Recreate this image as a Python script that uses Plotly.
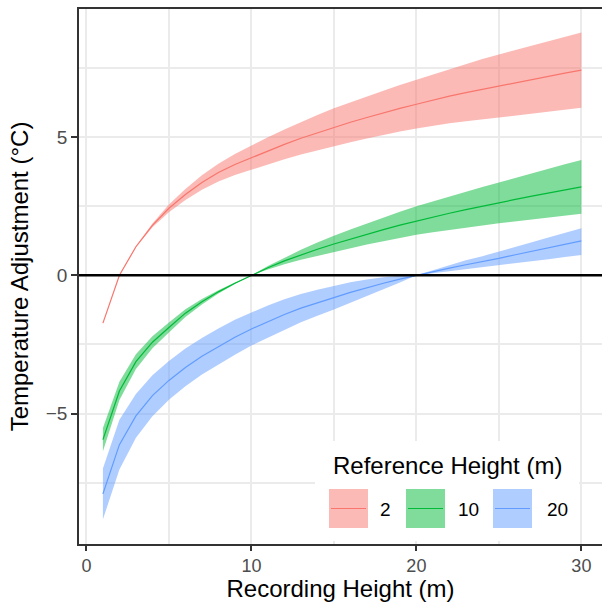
import plotly.graph_objects as go

# Recording heights (m)
heights = list(range(1, 31))

# Reference height 2 m
ref2_mid = [-1.73, 0.00, 1.03, 1.80, 2.42, 2.92, 3.35, 3.71, 4.00, 4.25,
            4.50, 4.73, 4.95, 5.15, 5.35, 5.53, 5.70, 5.87, 6.03, 6.18,
            6.33, 6.47, 6.60, 6.72, 6.84, 6.96, 7.08, 7.19, 7.30, 7.41]
ref2_lo = [-1.73, 0.00, 1.01, 1.73, 2.28, 2.72, 3.09, 3.39, 3.62, 3.81,
           4.01, 4.19, 4.36, 4.51, 4.67, 4.81, 4.94, 5.07, 5.19, 5.30,
           5.40, 5.49, 5.56, 5.63, 5.70, 5.78, 5.85, 5.92, 5.98, 6.05]
ref2_hi = [-1.73, 0.00, 1.05, 1.87, 2.56, 3.12, 3.61, 4.03, 4.38, 4.69,
           4.99, 5.27, 5.54, 5.79, 6.03, 6.25, 6.46, 6.67, 6.87, 7.06,
           7.26, 7.45, 7.64, 7.81, 7.98, 8.14, 8.31, 8.46, 8.62, 8.77]

# Reference height 10 m
ref10_mid = [-5.94, -4.18, -3.12, -2.42, -1.89, -1.37, -0.96, -0.60, -0.29, 0.00,
             0.27, 0.52, 0.74, 0.94, 1.13, 1.31, 1.49, 1.65, 1.81, 1.96,
             2.10, 2.24, 2.37, 2.50, 2.62, 2.74, 2.86, 2.97, 3.08, 3.19]
ref10_lo = [-6.36, -4.51, -3.39, -2.64, -2.07, -1.51, -1.06, -0.66, -0.32, 0.00,
            0.21, 0.40, 0.56, 0.70, 0.83, 0.97, 1.11, 1.23, 1.35, 1.46,
            1.55, 1.64, 1.72, 1.80, 1.88, 1.95, 2.02, 2.09, 2.16, 2.22]
ref10_hi = [-5.52, -3.85, -2.85, -2.20, -1.71, -1.23, -0.86, -0.54, -0.26, 0.00,
            0.33, 0.64, 0.92, 1.18, 1.43, 1.65, 1.87, 2.08, 2.29, 2.49,
            2.67, 2.85, 3.03, 3.19, 3.35, 3.52, 3.69, 3.85, 4.01, 4.16]

# Reference height 20 m
ref20_mid = [-7.90, -6.12, -5.08, -4.35, -3.80, -3.33, -2.93, -2.57, -2.24, -1.94,
             -1.67, -1.42, -1.19, -0.99, -0.81, -0.62, -0.45, -0.29, -0.14, 0.00,
             0.13, 0.26, 0.38, 0.49, 0.61, 0.74, 0.87, 0.99, 1.12, 1.24]
ref20_lo = [-8.82, -7.02, -5.87, -5.09, -4.50, -4.01, -3.59, -3.22, -2.87, -2.54,
            -2.25, -1.97, -1.70, -1.46, -1.24, -0.99, -0.75, -0.51, -0.26, 0.00,
            0.07, 0.14, 0.21, 0.28, 0.35, 0.43, 0.51, 0.58, 0.66, 0.73]
ref20_hi = [-6.98, -5.22, -4.29, -3.61, -3.10, -2.65, -2.27, -1.92, -1.61, -1.34,
            -1.09, -0.87, -0.68, -0.52, -0.38, -0.25, -0.15, -0.07, -0.02, 0.00,
            0.18, 0.36, 0.54, 0.69, 0.85, 1.02, 1.19, 1.36, 1.53, 1.70]

ref_labels = ["2", "10", "20"]
ref_colors = ["#F8766D", "#00BA38", "#619CFF"]
ref_fills = ["rgba(248,118,109,0.5)", "rgba(0,186,56,0.5)", "rgba(97,156,255,0.5)"]

series = [
    (ref2_mid, ref2_lo, ref2_hi),
    (ref10_mid, ref10_lo, ref10_hi),
    (ref20_mid, ref20_lo, ref20_hi),
]

FONT = "Liberation Sans, Arial, Helvetica, sans-serif"
W, H = 602, 602
ML, MR, MT, MB = 79, 0, 9, 58
TITLE_SIZE = 24
TEXT_SIZE = 19

fig = go.Figure()

# confidence ribbons
for (mid, lo, hi), col, fill in zip(series, ref_colors, ref_fills):
    fig.add_trace(go.Scatter(x=heights, y=lo, mode="lines", line=dict(width=0),
                             showlegend=False, hoverinfo="skip"))
    fig.add_trace(go.Scatter(x=heights, y=hi, mode="lines", line=dict(width=0),
                             fill="tonexty", fillcolor=fill, showlegend=False,
                             hoverinfo="skip"))

# fitted adjustment curves
for (mid, lo, hi), col, lab in zip(series, ref_colors, ref_labels):
    fig.add_trace(go.Scatter(x=heights, y=mid, mode="lines",
                             line=dict(color=col, width=1.2),
                             name=lab, showlegend=False))

shapes = [
    # zero reference line
    dict(type="line", xref="x domain", yref="y", x0=0, x1=1, y0=0, y1=0,
         line=dict(color="black", width=2.5), layer="above"),
]
annotations = []


def px(xp):
    return (xp - ML) / (W - ML - MR)


def py(yp):
    return (H - MB - yp) / (H - MT - MB)


# legend panel (drawn inside the plot area, lower right)
shapes.append(dict(type="rect", xref="paper", yref="paper",
                   x0=px(315), x1=px(579), y0=py(541), y1=py(441),
                   fillcolor="white", line=dict(width=0), layer="above"))
annotations.append(dict(text="Reference Height (m)", xref="paper", yref="paper",
                        x=px(331), y=py(465), xanchor="left", yanchor="middle",
                        showarrow=False,
                        font=dict(family=FONT, size=TITLE_SIZE, color="black")))
key_left = [329, 406, 493]
label_left = [378, 456, 545]
for kx, lx, col, fill, lab in zip(key_left, label_left, ref_colors, ref_fills, ref_labels):
    shapes.append(dict(type="rect", xref="paper", yref="paper",
                       x0=px(kx), x1=px(kx + 39), y0=py(528), y1=py(489),
                       fillcolor=fill, line=dict(width=0), layer="above"))
    shapes.append(dict(type="line", xref="paper", yref="paper",
                       x0=px(kx + 2), x1=px(kx + 37), y0=py(508.5), y1=py(508.5),
                       line=dict(color=col, width=1.2), layer="above"))
    annotations.append(dict(text=lab, xref="paper", yref="paper",
                            x=px(lx), y=py(509), xanchor="left", yanchor="middle",
                            showarrow=False,
                            font=dict(family=FONT, size=TEXT_SIZE, color="black")))

grid = "#EBEBEB"
fig.update_layout(
    width=W, height=H,
    margin=dict(l=ML, r=MR, t=MT, b=MB),
    paper_bgcolor="white", plot_bgcolor="white",
    font=dict(family=FONT, color="black"),
    showlegend=False,
    shapes=shapes,
    annotations=annotations,
    xaxis=dict(
        range=[-0.45, 31.25], tickmode="array", tickvals=[0, 10, 20, 30],
        showgrid=True, gridcolor=grid, gridwidth=2,
        minor=dict(tickmode="array", tickvals=[5, 15, 25], showgrid=True,
                   gridcolor=grid, gridwidth=2, ticklen=0),
        showline=True, linecolor="#333333", linewidth=1.6, mirror=True,
        ticks="outside", ticklen=5, tickwidth=1.6, tickcolor="#333333",
        tickfont=dict(family=FONT, size=18, color="#4D4D4D"),
        title=dict(text="Recording Height (m)", standoff=2,
                   font=dict(family=FONT, size=TITLE_SIZE, color="black")),
        zeroline=False,
    ),
    yaxis=dict(
        range=[-9.71, 9.62], tickmode="array", tickvals=[-5, 0, 5],
        showgrid=True, gridcolor=grid, gridwidth=2,
        minor=dict(tickmode="array", tickvals=[-7.5, -2.5, 2.5, 7.5], showgrid=True,
                   gridcolor=grid, gridwidth=2, ticklen=0),
        showline=True, linecolor="#333333", linewidth=1.6, mirror=False,
        ticks="outside", ticklen=6, tickwidth=1.6, tickcolor="#333333",
        tickfont=dict(family=FONT, size=TEXT_SIZE, color="#4D4D4D"),
        title=dict(text="Temperature Adjustment (°C)", standoff=10,
                   font=dict(family=FONT, size=TITLE_SIZE, color="black")),
        zeroline=False,
    ),
)

fig.write_html("out.html")
